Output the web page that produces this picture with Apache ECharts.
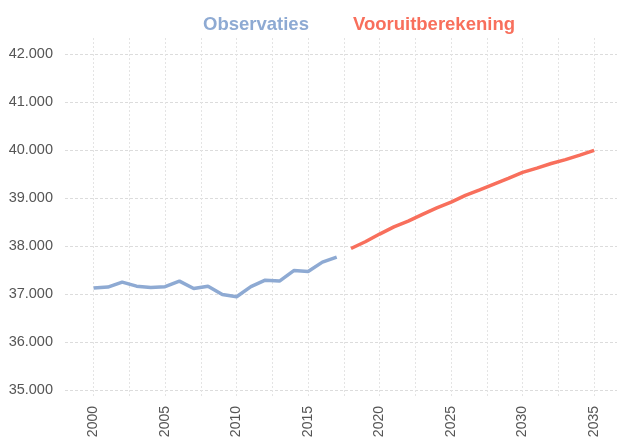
<!DOCTYPE html>
<html><head><meta charset="utf-8">
<script src="https://cdn.jsdelivr.net/npm/echarts@6/dist/echarts.min.js"></script>
<style>html,body{margin:0;padding:0;background:#fff}#c{width:617px;height:441px}</style>
</head><body><div id="c"></div>
<script>
const obsYears = [2000,2001,2002,2003,2004,2005,2006,2007,2008,2009,2010,2011,2012,2013,2014,2015,2016,2017];
const obsValues = [37120,37140,37245,37160,37130,37150,37265,37110,37160,36985,36940,37150,37285,37265,37485,37465,37660,37765];
const projYears = [2018,2019,2020,2021,2022,2023,2024,2025,2026,2027,2028,2029,2030,2031,2032,2033,2034,2035];
const projValues = [37945,38085,38245,38395,38515,38655,38790,38910,39050,39165,39285,39405,39530,39620,39715,39795,39890,39990];
const xTickValues = [2000,2002.5,2005,2007.5,2010,2012.5,2015,2017.5,2020,2022.5,2025,2027.5,2030,2032.5,2035];
const xLabelValues = [2000,2005,2010,2015,2020,2025,2030,2035];
const yTickValues = [35000,36000,37000,38000,39000,40000,41000,42000];

const chart = echarts.init(document.getElementById('c'), null, {renderer:'canvas'});
const font = 'Liberation Sans, Arial, sans-serif';
chart.setOption({
  animation: false,
  legend: {
    top: 10, left: 193, icon: 'none', itemWidth: 0, itemGap: 39,
    textStyle: {fontFamily: font, fontSize: 18.5, fontWeight: 'bold'},
    data: [
      {name: 'Observaties', textStyle: {color: '#8eaad3'}},
      {name: 'Vooruitberekening', textStyle: {color: '#f86f5c'}}
    ]
  },
  grid: {left: 65, right: 0, top: 38, bottom: 43, containLabel: false, outerBoundsMode: 'none'},
  xAxis: {
    type: 'value', min: 1998, max: 2036.6,
    axisLine: {show: false},
    axisTick: {show: false, customValues: xTickValues},
    axisLabel: {customValues: xLabelValues, rotate: 90, margin: 8, color: '#555',
      fontFamily: font, fontSize: 14, formatter: v => String(v)},
    splitLine: {show: true, lineStyle: {color: '#e4e4e4', type: [2,2], width: 1}}
  },
  yAxis: {
    type: 'value', min: 34830, max: 42330,
    axisLine: {show: false},
    axisTick: {show: false, customValues: yTickValues},
    axisLabel: {customValues: yTickValues, margin: 12, color: '#555', fontFamily: font, fontSize: 14.5,
      formatter: v => (v/1000).toFixed(3)},
    splitLine: {show: true, lineStyle: {color: '#dcdcdc', type: [3,2], width: 1}}
  },
  series: [
    {name: 'Observaties', type: 'line', showSymbol: false, symbol: 'none',
     data: obsYears.map((y,i) => [y, obsValues[i]]),
     lineStyle: {color: '#8eaad3', width: 3.5}, itemStyle: {color: '#8eaad3'}},
    {name: 'Vooruitberekening', type: 'line', showSymbol: false, symbol: 'none',
     data: projYears.map((y,i) => [y, projValues[i]]),
     lineStyle: {color: '#f86f5c', width: 3.5}, itemStyle: {color: '#f86f5c'}}
  ]
});
</script></body></html>
